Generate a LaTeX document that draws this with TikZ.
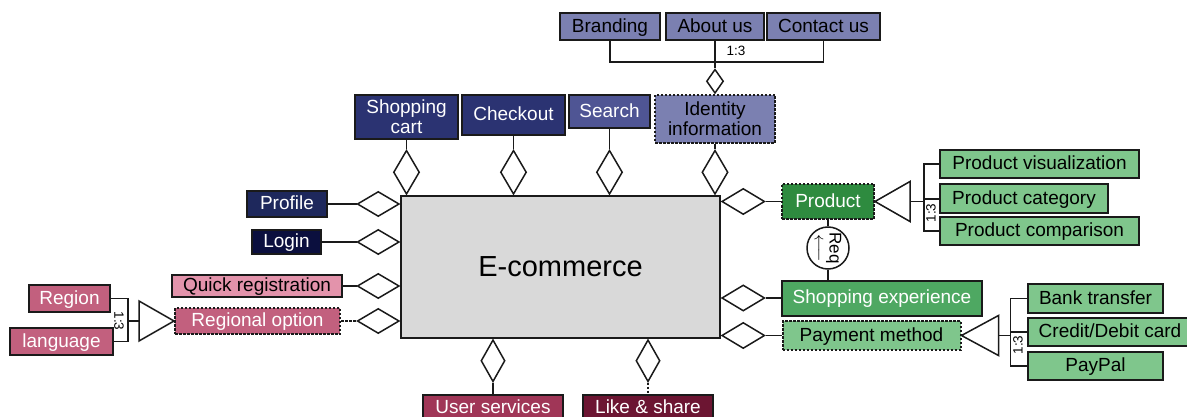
\documentclass[tikz,border=0pt]{standalone}
\usepackage{fontspec}
\setmainfont{Liberation Sans}
\usepackage{tikz}
\usetikzlibrary{shapes.geometric}

\definecolor{slate}{HTML}{7B80B1}
\definecolor{midblue}{HTML}{4F5594}
\definecolor{navy}{HTML}{2B3372}
\definecolor{deepnavy}{HTML}{1E285C}
\definecolor{nightnavy}{HTML}{0B0F3E}
\definecolor{rose}{HTML}{E393AB}
\definecolor{mauve}{HTML}{C2607E}
\definecolor{crimson}{HTML}{A03657}
\definecolor{maroon}{HTML}{6C1532}
\definecolor{forest}{HTML}{2E8B3F}
\definecolor{leaf}{HTML}{4EA862}
\definecolor{mint}{HTML}{7FC68C}
\definecolor{core}{HTML}{D9D9D9}
\definecolor{edge}{HTML}{1A1A1A}

\begin{document}
\begin{tikzpicture}[x=1pt, y=-1pt, line width=1.5pt, draw=edge,
	feat/.style={draw=edge, line width=2pt, inner sep=0pt, align=center, font=\fontsize{19}{20}\selectfont},
	oneline/.style={feat, text height=13.5pt, text depth=2pt},
	light/.style={oneline, text=black},
	dark/.style={oneline, text=white},
	opt/.style={dash pattern=on 2.5pt off 1.5pt},
	ldia/.style={diamond, draw=edge, fill=white, inner sep=0pt, minimum width=42, minimum height=25},
	vdia/.style={diamond, draw=edge, fill=white, inner sep=0pt, minimum width=26, minimum height=44},
	tri/.style={draw=edge, fill=white, line join=miter},
	card/.style={inner sep=1pt, font=\fontsize{13.5}{14}\selectfont}]
	\useasboundingbox (0,0) rectangle (1187,417);
	
	\node[draw=edge, fill=core, line width=2pt, minimum width=319, minimum height=142, font=\fontsize{29}{32}\selectfont] (core) at (560.5,267) {E-commerce};
	
	\begin{scope}
		\node[light, fill=slate, minimum width=100, minimum height=27] (brand) at (610,26.5) {Branding};
		\node[light, fill=slate, minimum width=98, minimum height=27] (about) at (715,26.5) {About us};
		\node[light, fill=slate, minimum width=113, minimum height=27] (contact) at (823.5,26.5) {Contact us};
		\node[feat, text=black, fill=slate, opt, minimum width=120, minimum height=48] (ident) at (715,119) {Identity\\information};
		\node[dark, fill=midblue, minimum width=81, minimum height=33] (search) at (609.5,111.5) {Search};
		\node[dark, fill=navy, minimum width=103, minimum height=40] (checkout) at (513.5,115) {Checkout};
		\node[feat, text=white, fill=navy, minimum width=103, minimum height=44] (cart) at (406.5,117) {Shopping\\cart};
		
		\node[diamond, draw=edge, fill=white, inner sep=0pt, minimum width=17, minimum height=24, anchor=south] (didt) at (ident.north) {};
		\coordinate (join) at (715,62);
		\draw (brand) |- (join) -| (contact);
		\draw (about) -- (didt);
		\node[card] (ratiotop) at (736,51) {1:3};
		
		\foreach \n in {cart, checkout, search, ident} {
			\node[vdia, anchor=south] (d\n) at (\n |- core.north) {};
			\draw (\n) -- (d\n);
		}
	\end{scope}
	
	\begin{scope}
		\node[dark, fill=deepnavy, minimum width=80, minimum height=26] (profile) at (287,204) {Profile};
		\node[dark, fill=nightnavy, minimum width=69, minimum height=24] (login) at (286.5,242) {Login};
		\node[light, fill=rose, minimum width=170, minimum height=22] (quick) at (257,286) {Quick registration};
		\node[dark, fill=mauve, opt, minimum width=165, minimum height=26] (regional) at (257.5,321) {Regional option};
		\node[dark, fill=mauve, minimum width=81, minimum height=27] (region) at (69.5,298.5) {Region};
		\node[dark, fill=mauve, minimum width=103, minimum height=27] (lang) at (61.5,341.5) {language};
		
		\foreach \n in {profile, login, quick, regional}
			\node[ldia, anchor=east] (d\n) at (core.west |- \n) {};
		\draw (profile) -- (dprofile);
		\draw (login) -- (dlogin);
		\draw (quick) -- (dquick);
		\draw[opt] (regional) -- (dregional);
		
		\draw[tri] (regional.west) -- ++(-35,-20) -- ++(0,40) -- cycle;
		\coordinate (lbase) at ([xshift=-35pt]regional.west);
		\coordinate (lfork) at ([xshift=-46pt]regional.west);
		\draw (region) -| (lfork);
		\draw (lang) -| (lfork);
		\draw (lfork) -- (lbase);
		\node[card, rotate=-90] (ratioleft) at (119,321) {1:3};
	\end{scope}
	
	\begin{scope}
		\node[dark, fill=crimson, minimum width=140, minimum height=26] (serv) at (493,408) {User services};
		\node[dark, fill=maroon, minimum width=130, minimum height=26] (like) at (648,408) {Like \& share};
		\node[vdia, minimum height=42, minimum width=24, anchor=north] (dserv) at (serv |- core.south) {};
		\node[vdia, minimum height=42, minimum width=24, anchor=north] (dlike) at (like |- core.south) {};
		\draw (dserv) -- (serv);
		\draw[opt] (dlike) -- (like);
	\end{scope}
	
	\begin{scope}
		\node[dark, fill=forest, opt, minimum width=92, minimum height=35] (prod) at (828,201.5) {Product};
		\node[light, fill=mint, minimum width=199, minimum height=28] (pvis) at (1039.5,164) {Product visualization};
		\node[light, fill=mint, minimum width=168, minimum height=29] (pcat) at (1024,199) {Product category};
		\node[light, fill=mint, minimum width=199, minimum height=28] (pcomp) at (1039.5,231) {Product comparison};
		\node[dark, fill=leaf, minimum width=200, minimum height=35] (shop) at (882,298) {Shopping experience};
		\node[light, fill=mint, opt, minimum width=178, minimum height=29] (pay) at (871.5,335.5) {Payment method};
		\node[light, fill=mint, minimum width=135, minimum height=29] (bank) at (1095.5,298.5) {Bank transfer};
		\node[light, fill=mint, minimum width=164, minimum height=28] (card) at (1110,332) {Credit/Debit card};
		\node[light, fill=mint, minimum width=135, minimum height=28] (paypal) at (1095.5,366) {PayPal};
		
		\foreach \n in {prod, shop, pay} {
			\node[ldia, minimum width=43, minimum height=26, anchor=west] (d\n) at (core.east |- \n) {};
			\draw (d\n) -- (\n);
		}
		
		\node[circle, draw=edge, fill=white, inner sep=0pt, minimum size=42, rotate=-90, align=center, font=\fontsize{17}{15}\selectfont] (req) at (828,248) {Req\\$\longleftarrow$};
		\draw (prod) -- (req);
		\draw (req) -- (req |- shop.north);
		
		\draw[tri] (prod.east) -- ++(35,-20) -- ++(0,40) -- cycle;
		\coordinate (pbase) at ([xshift=35pt]prod.east);
		\coordinate (pfork) at ([xshift=49pt]prod.east);
		\draw (pbase) -- (pfork);
		\draw (pvis) -| (pfork);
		\draw (pcomp) -| (pfork);
		\draw (pcat) -- (pcat -| pfork);
		\node[card, rotate=90] (ratioprod) at (931,213) {1:3};
		
		\draw[tri] (pay.east) -- ++(37,-20) -- ++(0,40) -- cycle;
		\coordinate (ybase) at ([xshift=37pt]pay.east);
		\coordinate (yfork) at ([xshift=49pt]pay.east);
		\draw (ybase) -- (yfork);
		\draw (bank) -| (yfork);
		\draw (paypal) -| (yfork);
		\draw (card) -- (card -| yfork);
		\node[card, rotate=90] (ratiopay) at (1018,345) {1:3};
	\end{scope}
\end{tikzpicture}
\end{document}
